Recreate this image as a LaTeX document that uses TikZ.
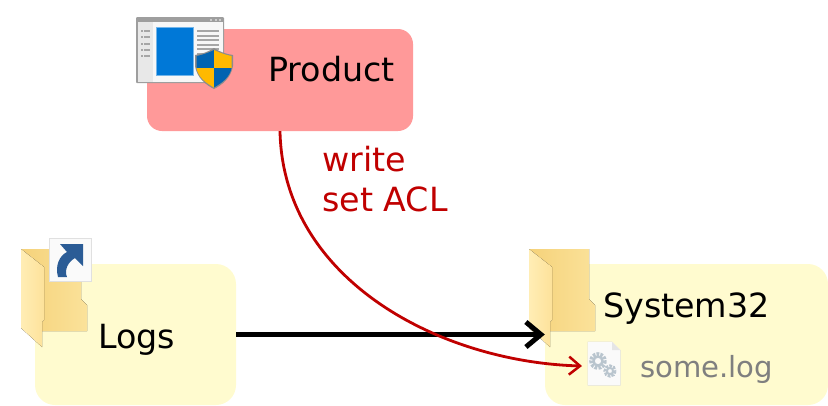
\documentclass[tikz,border=0pt]{standalone}
\usepackage{fontspec}
\setmainfont{DejaVu Sans}
\usetikzlibrary{arrows.meta}
\definecolor{prodfill}{HTML}{FF9999}
\definecolor{boxfill}{HTML}{FFFBCF}
\definecolor{redline}{HTML}{C00000}
\definecolor{logtext}{HTML}{7F7F7F}
\definecolor{winblue}{HTML}{0078D7}
\definecolor{shieldblue}{HTML}{0063B1}
\definecolor{shieldyellow}{HTML}{FFB900}
\definecolor{gearcol}{HTML}{B9C5CE}
\definecolor{arrowblue}{HTML}{2B5C96}
\tikzset{
  x=1pt,y=-1pt,
  prodbox/.style={rectangle,rounded corners=15pt,fill=prodfill,minimum width=266pt,minimum height=102pt,inner sep=0pt},
  yellowbox/.style={rectangle,rounded corners=20pt,fill=boxfill,minimum height=141pt,inner sep=0pt},
  bigtext/.style={font=\fontsize{33.3}{40}\selectfont,text=black,inner sep=0pt,anchor=base west},
  redtext/.style={bigtext,text=redline},
  logtxt/.style={font=\fontsize{29.1}{34}\selectfont,text=logtext,inner sep=0pt,anchor=base west},
  thickarrow/.style={draw=black,line width=5.5pt,-{Straight Barb[length=15pt,width=25pt,line width=5pt]}},
  redarrow/.style={draw=redline,line width=2.8pt,-{Straight Barb[length=11pt,width=18pt,line width=2.5pt]}}
}
\definecolor{fa}{HTML}{F5D27A}
\definecolor{fb}{HTML}{FBE29A}
\definecolor{fc}{HTML}{FFEDB5}
\definecolor{fd}{HTML}{FDE29A}
\newcommand{\folderpic}[1]{%
  \begin{scope}[shift={(#1,0)}]
    \fill[left color=fa,right color=fb] (21,249) -- (81,249) -- (81,299) -- (87,305) -- (87,331) -- (42,331) -- cycle;
    \fill[left color=fc,right color=fd] (21,249) -- (44,267) -- (44,320) -- (42,322) -- (42,347) -- (21,328) -- cycle;
  \end{scope}}
\begin{document}
\begin{tikzpicture}
\useasboundingbox (0,0) rectangle (828,405);
% boxes
\node[prodbox] (product) at (280,80) {};
\node[yellowbox,minimum width=201pt] (logs) at (135.5,334.5) {};
\node[yellowbox,minimum width=283pt] (system) at (686.5,334.5) {};
% folders
\folderpic{0}
\folderpic{508}
% product icon
\fill[black!38,rounded corners=1pt] (136,17) rectangle (224,83);
\fill[black!3] (137.500,22) rectangle (222.500,81.500);
\fill[black!9] (137.500,22) rectangle (153,81.500);
\fill[winblue!55] (156,27) rectangle (194,76);
\fill[winblue] (157,28) rectangle (193,75);
\foreach \yy in {30,35,39,44,48,53} \fill[black!35] (197,\yy) rectangle (219,\yy+1.5);
\foreach \yy in {30,36,43,49,55} {\fill[black!35] (144,\yy) rectangle (150,\yy+1.5);\fill[black!35] (141,\yy) rectangle (142.5,\yy+1.5);}
\foreach \xx in {210,215,219} \fill[black!20] (\xx,18.5) rectangle (\xx+2,20.5);
\fill[black!45] (214,48) .. controls (208,52) and (202,54) .. (195,55) -- (195,66) .. controls (197,78) and (206,85) .. (214,89) .. controls (222,85) and (231,78) .. (233,66) -- (233,55) .. controls (226,54) and (220,52) .. (214,48) -- cycle;
\fill[shieldblue] (214,50) .. controls (208,53) and (202,55) .. (196.500,56) -- (196.500,68) -- (214,68) -- cycle;
\fill[shieldyellow] (214,50) .. controls (220,53) and (226,55) .. (231.500,56) -- (231.500,68) -- (214,68) -- cycle;
\fill[shieldyellow] (196.500,68) .. controls (198,77) and (206,83) .. (214,87.500) -- (214,68) -- cycle;
\fill[shieldblue] (231.500,68) .. controls (230,77) and (222,83) .. (214,87.500) -- (214,68) -- cycle;
% shortcut overlay
\fill[black!12] (49,238) rectangle (92,282);
\fill[black!2] (50,239) rectangle (91,281);
\fill[arrowblue] (83,244) -- (60,244) -- (67,252) .. controls (59,256) and (55,266) .. (58,277) -- (67,277) .. controls (64,270) and (68,262) .. (75,258) -- (83,266) -- cycle;
% file icon
\fill[black!13] (587.500,341.500) -- (612,341.500) -- (620.500,350) -- (620.500,385.500) -- (587.500,385.500) -- cycle;
\fill[black!2] (588,342) -- (612,342) -- (620,350) -- (620,385) -- (588,385) -- cycle;
\fill[black!10] (612,342) -- (612,350) -- (620,350) -- cycle;
\foreach \cx/\cy/\ra/\rb in {598/361/8/4.5,610/371/6/3}{
  \draw[gearcol,line width=\ra*0.5pt,dash pattern=on 2.6pt off 1.2pt] (\cx,\cy) circle ({\ra*0.85});
  \draw[gearcol,line width=\ra*0.3pt] (\cx,\cy) circle ({\rb});
}
% labels
\node[bigtext] (producttext) at (268,81) {Product};
\node[redtext] (writetext) at (322,171) {write};
\node[redtext] (acltext) at (322,211) {set ACL};
\node[bigtext] (logstext) at (98,348) {Logs};
\node[bigtext] (systemtext) at (603,317) {System32};
\node[logtxt] (logfile) at (640,377) {some.log};
\coordinate (fileport) at (582,366);
% connectors
\draw[thickarrow] (logs.east) -- (system.west);
\draw[redarrow] (product.south) .. controls (283,280) and (440,362) .. (fileport);
\end{tikzpicture}
\end{document}
